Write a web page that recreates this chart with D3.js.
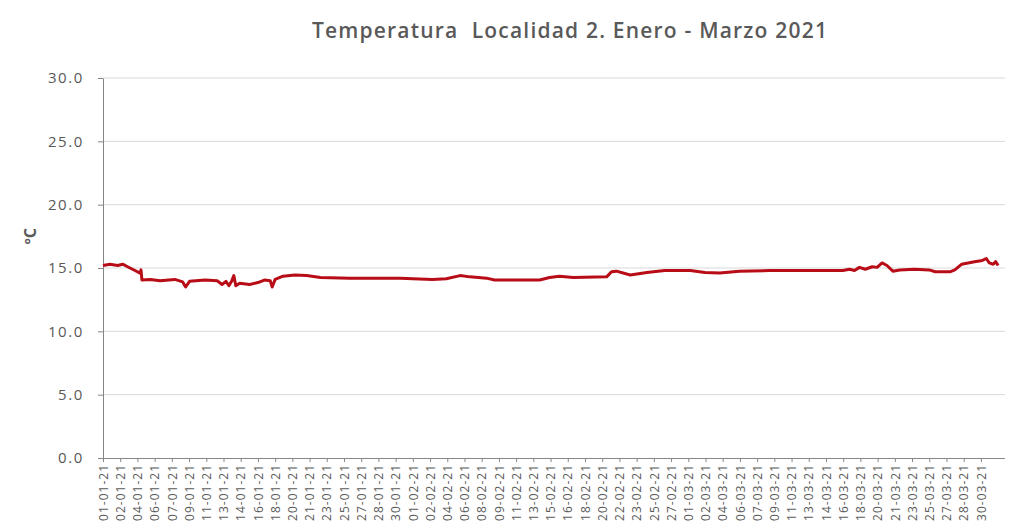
<!DOCTYPE html>
<html>
<head>
<meta charset="utf-8">
<script src="https://cdn.jsdelivr.net/npm/d3@7"></script>
<style>
  body { margin: 0; background: #fff; }
  svg { display: block; }
  .grid line { stroke: #d9d9d9; stroke-width: 1; }
  .axis path, .axis line { stroke: #868686; }
  .axis text { fill: #595959; font-family: "Open Sans", sans-serif; }
</style>
</head>
<body>
<script>
//reading days since 01-01-21 00:00 and the temperature
var readingDays = [0, 0.7, 1.5, 2.0, 2.5, 3.25, 3.76, 3.86, 3.96, 4.8, 5.8, 7.3, 8.1, 8.4, 8.8,
    10.4, 11.6, 12.1, 12.5, 12.8, 13.1, 13.3, 13.5, 13.9, 14.9, 15.75, 16.4, 17.0, 17.2, 17.5,
    18.3, 19.5, 20.7, 22.1, 25.1, 28.2, 30.2, 33.5, 34.9, 36.3, 37.3, 39.0, 39.8, 44.4, 45.4,
    46.4, 47.8, 51.2, 51.7, 52.2, 53.6, 55.3, 57.1, 59.7, 61.2, 62.7, 64.7, 67.8, 75.2, 75.9,
    76.4, 76.9, 77.5, 78.2, 78.7, 79.2, 79.7, 80.3, 81.0, 82.5, 84.0, 84.6, 86.1, 86.6, 87.3,
    88.6, 89.4, 89.8, 90.1, 90.5, 90.75, 91.0];
var temps = [15.2, 15.3, 15.2, 15.3, 15.1, 14.8, 14.6, 14.85, 14.05, 14.1, 14.0, 14.1, 13.9, 13.5, 13.95,
    14.05, 14.0, 13.7, 13.95, 13.6, 14.0, 14.4, 13.6, 13.8, 13.7, 13.85, 14.05, 14.0, 13.5, 14.1,
    14.35, 14.45, 14.4, 14.25, 14.2, 14.2, 14.2, 14.1, 14.15, 14.4, 14.3, 14.2, 14.05, 14.05, 14.25,
    14.35, 14.25, 14.3, 14.7, 14.75, 14.45, 14.65, 14.8, 14.8, 14.65, 14.6, 14.75, 14.8, 14.8, 14.9,
    14.8, 15.05, 14.9, 15.1, 15.05, 15.4, 15.2, 14.75, 14.85, 14.9, 14.85, 14.7, 14.7, 14.85, 15.3,
    15.5, 15.6, 15.75, 15.4, 15.3, 15.5, 15.2];

var dateLabels = ["01-01-21", "02-01-21", "04-01-21", "06-01-21", "07-01-21", "09-01-21", "11-01-21",
    "13-01-21", "14-01-21", "16-01-21", "18-01-21", "20-01-21", "21-01-21", "23-01-21", "25-01-21",
    "27-01-21", "28-01-21", "30-01-21", "01-02-21", "02-02-21", "04-02-21", "06-02-21", "08-02-21",
    "09-02-21", "11-02-21", "13-02-21", "15-02-21", "16-02-21", "18-02-21", "20-02-21", "22-02-21",
    "23-02-21", "25-02-21", "27-02-21", "01-03-21", "02-03-21", "04-03-21", "06-03-21", "07-03-21",
    "09-03-21", "11-03-21", "13-03-21", "14-03-21", "16-03-21", "18-03-21", "20-03-21", "21-03-21",
    "23-03-21", "25-03-21", "27-03-21", "28-03-21", "30-03-21"];
var labelStep = 1.75; //days between date labels

var yTicks = [0, 5, 10, 15, 20, 25, 30];

var width = 1011,
    height = 530;

var svg = d3.select("body")
    .append("svg")
    .attr("width", width)
    .attr("height", height);

var x = d3.scaleLinear()
    .domain([0, 91.7])
    .range([103, 1005]);

var y = d3.scaleLinear()
    .domain([0, 30])
    .range([458, 78]);

//horizontal gridlines
svg.append("g")
    .attr("class", "grid")
    .selectAll("line")
    .data(yTicks.slice(1))
    .enter()
    .append("line")
    .attr("x1", x.range()[0])
    .attr("x2", x.range()[1])
    .attr("y1", function(d){ return y(d); })
    .attr("y2", function(d){ return y(d); });

//y axis
var yAxis = svg.append("g")
    .attr("class", "axis")
    .attr("transform", "translate(" + x.range()[0] + ",0)")
    .call(d3.axisLeft(y)
        .tickValues(yTicks)
        .tickFormat(d3.format(".1f"))
        .tickSize(5)
        .tickSizeOuter(0)
        .tickPadding(14));
yAxis.selectAll("text")
    .style("font-size", "15px")
    .style("letter-spacing", "1.6px");

//x axis
var xAxis = svg.append("g")
    .attr("class", "axis")
    .attr("transform", "translate(0," + y(0) + ")")
    .call(d3.axisBottom(x)
        .tickValues(dateLabels.map(function(d, i){ return i * labelStep; }))
        .tickFormat(function(d, i){ return dateLabels[i]; })
        .tickSize(4)
        .tickSizeOuter(0));
xAxis.select(".domain").attr("d", "M" + x.range()[0] + ",0.5H" + x.range()[1]);
xAxis.selectAll("text")
    .attr("transform", "rotate(-90)")
    .attr("x", -6)
    .attr("y", 0)
    .attr("dy", "0.35em")
    .style("text-anchor", "end")
    .style("font-size", "12px")
    .style("letter-spacing", "1px");

//temperature line
var line = d3.line()
    .x(function(d, i){ return x(readingDays[i]); })
    .y(function(d){ return y(d); });

svg.append("path")
    .datum(temps)
    .attr("fill", "none")
    .attr("stroke", "#b80c16")
    .attr("stroke-width", 3)
    .attr("stroke-linejoin", "round")
    .attr("d", line);

//title
svg.append("text")
    .attr("x", 570)
    .attr("y", 38)
    .attr("text-anchor", "middle")
    .style("white-space", "pre")
    .style("font-family", "'Open Sans', sans-serif")
    .style("font-size", "21px")
    .style("font-weight", "600")
    .style("letter-spacing", "1.2px")
    .style("fill", "#595959")
    .text("Temperatura  Localidad 2. Enero - Marzo 2021");

//y axis title
svg.append("text")
    .attr("transform", "translate(36," + y(17.5) + ") rotate(-90)")
    .attr("text-anchor", "middle")
    .style("font-family", "'Open Sans', sans-serif")
    .style("font-size", "16px")
    .style("font-weight", "700")
    .style("fill", "#595959")
    .text("ºC");
</script>
</body>
</html>
